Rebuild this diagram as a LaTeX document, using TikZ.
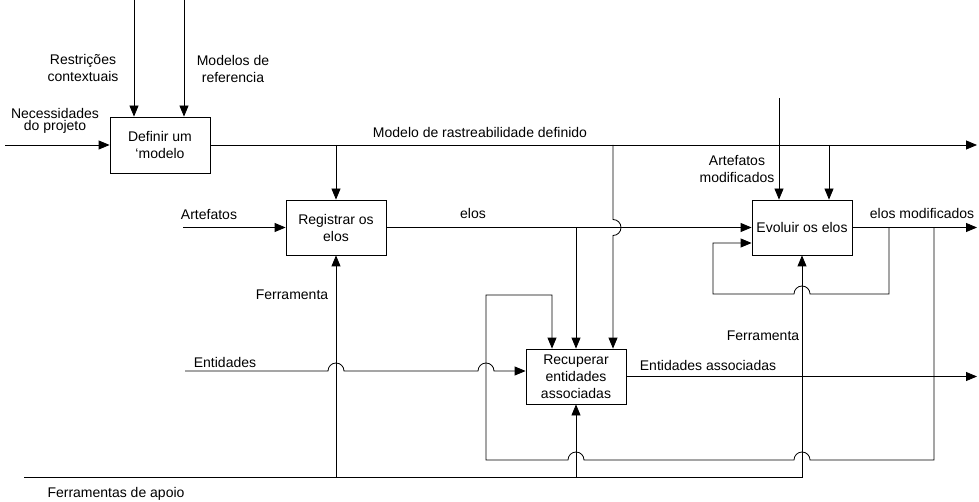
\documentclass[tikz,border=0pt]{standalone}
\usepackage{fontspec}
\setmainfont{Liberation Sans}
\usetikzlibrary{arrows.meta}

\begin{document}
\begin{tikzpicture}[
  x=1pt, y=-1pt,
  block/.style={rectangle, draw, line width=0.8pt, minimum width=100pt, minimum height=55pt, align=center, inner sep=1pt},
  flow/.style={-{Triangle[length=11pt,width=9pt]}, line width=0.8pt},
  lbl/.style={align=center},
  every node/.style={font=\fontsize{14}{17}\selectfont}
]
\useasboundingbox (0,0) rectangle (979,502);

\node[block, minimum height=56pt] (definir) at (160,145) {Definir um\\‘modelo};
\node[block] (registrar) at (336,227.5) {Registrar os\\elos};
\node[block] (evoluir) at (802,227.5) {Evoluir os elos};
\node[block] (recuperar) at (576,376.5) {Recuperar\\entidades\\associadas};

\node[lbl] (restr) at (83,68) {Restrições\\contextuais};
\node[lbl] (refs) at (233,68.5) {Modelos de\\referencia};
\node[lbl, font=\fontsize{14}{12.5}\selectfont] (necess) at (55,121) {Necessidades\\do projeto};
\node[anchor=base] (modelo) at (480,138) {Modelo de rastreabilidade definido};
\node[anchor=base] (artef) at (209,220) {Artefatos};
\node[anchor=base] (elos) at (473,219) {elos};
\node[lbl] (artmodlbl) at (737,169.5) {Artefatos\\modificados};
\node[anchor=base] (elosmod) at (922,219) {elos modificados};
\node[anchor=base] (ent) at (225,367) {Entidades};
\node[anchor=base] (entassoc) at (708,370) {Entidades associadas};
\node[anchor=base] (ferr1) at (292,300) {Ferramenta};
\node[anchor=base] (ferr2) at (763,340) {Ferramenta};
\node[anchor=base] (apoiolbl) at (116,497) {Ferramentas de apoio};

\coordinate (restrin) at (134,0);
\coordinate (refin) at (184,0);
\coordinate (necin) at (5,145);
\coordinate (modout) at (977,145);
\coordinate (m2) at (613,145);
\coordinate (m3) at (829,145);
\coordinate (artmod) at (779,98);
\coordinate (artin) at (183,227.5);
\coordinate (e1) at (576,227.5);
\coordinate (elosout) at (977,227.5);
\coordinate (loopa) at (713,243);
\coordinate (fb1) at (934,227.5);
\coordinate (fb2) at (552,295);
\coordinate (entin) at (185,371);
\coordinate (entout) at (977,376.5);
\coordinate (apoio) at (24,477);

\draw[flow] (restrin) -- (restrin |- definir.north);
\draw[flow] (refin) -- (refin |- definir.north);
\draw[flow] (necin) -- (definir.west);
\draw[flow] (definir.east) -- (modout);

\draw[flow] (registrar.north |- modout) -- (registrar.north);
\draw[flow] (m2) -- (613,219.5) arc(-90:90:8) -- (m2 |- recuperar.north);
\draw[flow] (m3) -- (m3 |- evoluir.north);
\draw[flow] (artmod) -- (artmod |- evoluir.north);

\draw[flow] (artin) -- (registrar.west);
\draw[flow] (registrar.east) -- (evoluir.west);
\draw[flow] (e1) -- (e1 |- recuperar.north);
\draw[flow] (evoluir.east) -- (elosout);
\draw[flow] (889,227.5) -- (889,294) -- (810,294) arc(0:-180:8) -- (713,294) -- (loopa) -- (loopa -| evoluir.west);
\draw[flow] (fb1) -- (934,460) -- (810,460) arc(0:-180:8) -- (584,460) arc(0:-180:8) -- (486,460) -- (486,295) -- (fb2) -- (fb2 |- recuperar.north);

\draw[flow] (entin) -- (328,371) arc(180:360:8) -- (478,371) arc(180:360:8) -- (entin -| recuperar.west);
\draw[flow] (recuperar.east) -- (entout);

\draw[flow] (apoio) -- (802,477) -- (evoluir.south);
\draw[flow] (registrar.south |- apoio) -- (registrar.south);
\draw[flow] (recuperar.south |- apoio) -- (recuperar.south);
\end{tikzpicture}
\end{document}
